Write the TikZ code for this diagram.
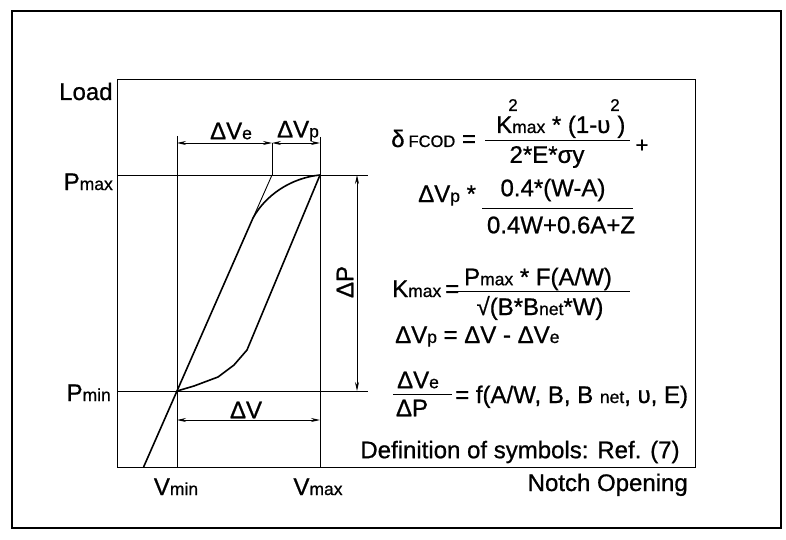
\documentclass[tikz,border=0pt]{standalone}
\usepackage{fontspec}
\setmainfont[FakeBold=0.8]{Liberation Sans}
\usetikzlibrary{arrows.meta}
\newcommand\lsub[1]{{\fontsize{17.5}{20}\selectfont #1}}
\begin{document}
\begin{tikzpicture}[x=1pt,y=-1pt,
  thinline/.style={line width=0.9pt},
  curveline/.style={line width=1.6pt},
  dimline/.style={line width=0.9pt,{Stealth[length=9pt,width=4pt]}-{Stealth[length=9pt,width=4pt]}},
  every node/.style={inner sep=0pt,font=\fontsize{24}{28}\selectfont}]
\useasboundingbox (0,0) rectangle (786,540);
% frames
\draw[line width=1.4pt] (12,11) rectangle (781,528);
\draw[thinline] (117,79) rectangle (695,467);
% key coordinates
\coordinate (pmin) at (177,391);
\coordinate (tick) at (272,175);
\coordinate (vmaxtop) at (320,175);
\coordinate (sb) at (143.6,467);
\coordinate (joint) at (253,218);
% grid lines
\draw[thinline] (117,175) -- (368,175);
\draw[thinline] (117,391) -- (368,391);
\draw[thinline] (177,136) -- (177,467);
\draw[thinline] (320,137) -- (320,467);
\draw[thinline] (272,143) -- (tick);
% dimension arrows
\draw[dimline] (177,143) -- (272,143);
\draw[dimline] (272,143) -- (320,143);
\draw[dimline] (357,175) -- (357,391);
\draw[dimline] (177,420) -- (320,420);
% curves
\draw[curveline] (sb) -- (joint) .. controls (265,196) and (290,178) .. (vmaxtop);
\draw[thinline] (joint) -- (tick);
\draw[curveline] (vmaxtop) -- (247,350) -- (234,365) -- (218,377) -- (194,386) -- (pmin);
% axis labels
\node[anchor=base west] (load) at (59,100) {Load};
\node[anchor=base east] (pmaxl) at (113,190) {P\lsub{max}};
\node[anchor=base east] (pminl) at (111,401) {P\lsub{min}};
\node[anchor=base] (vminl) at (176,495) {V\lsub{min}};
\node[anchor=base] (vmaxl) at (318,495) {V\lsub{max}};
\node[anchor=base east] (notch) at (688,491) {Notch Opening};
% dimension labels
\node (dve) at (231,131) {ΔV\lsub{e}};
\node (dvp) at (298,131) {ΔV\lsub{p}};
\node[rotate=90] (dP) at (345,282) {ΔP};
\node (dV) at (246,410) {ΔV};
% formula 1
\node[anchor=base west] (f1lhs) at (391,147) {δ\,{\fontsize{16.5}{19}\selectfont FCOD} =};
\draw[thinline] (485,140) -- (630,140);
\node[anchor=base west] (f1num) at (496,133) {K\lsub{max} * (1-υ\hspace{7pt})};
\node[anchor=base] (f1sqa) at (513,111) {\fontsize{17}{19}\selectfont 2};
\node[anchor=base] (f1sqb) at (615,111) {\fontsize{17}{19}\selectfont 2};
\node (f1den) at (547,157) {2*E*σy};
\node (f1plus) at (642,146) {\fontsize{22}{24}\selectfont +};
% formula 2
\node[anchor=base west] (f2lhs) at (418,202) {ΔV\lsub{p} *};
\draw[thinline] (482,208) -- (633,208);
\node (f2num) at (553,190) {0.4*(W-A)};
\node (f2den) at (561,225) {0.4W+0.6A+Z};
% formula 3
\node[anchor=base west] (f3lhs) at (392,297) {K\lsub{max}\,=};
\draw[thinline] (455,291) -- (630,291);
\node (f3num) at (538,279) {P\lsub{max} * F(A/W)};
\node (f3den) at (540,308) {√(B*B\lsub{net}*W)};
% formula 4
\node[anchor=base west] (f4) at (395,343) {ΔV\lsub{p} = ΔV - ΔV\lsub{e}};
% formula 5
\draw[thinline] (393,394) -- (452,394);
\node (f5num) at (418,380) {ΔV\lsub{e}};
\node (f5den) at (412,408) {ΔP};
\node[anchor=base west] (f5rhs) at (455,403) {= f(A/W, B, B \lsub{net}, υ, E)};
% definition
\node (defn) at (520,452) {Definition of symbols: Ref. (7)};
\end{tikzpicture}
\end{document}
